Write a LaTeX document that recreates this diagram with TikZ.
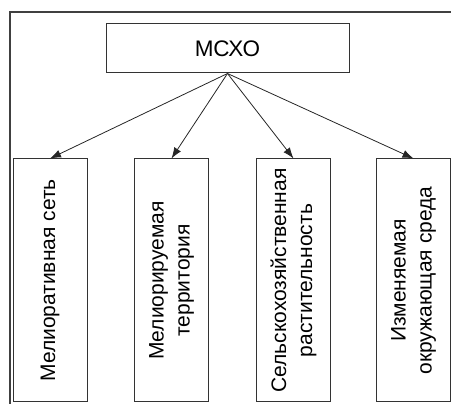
\documentclass[tikz,border=0pt]{standalone}
\usepackage{fontspec}
\setmainfont{Liberation Sans}
\usetikzlibrary{arrows.meta,positioning}
\tikzset{
  frameline/.style={draw=black!75,line width=2pt},
  rootbox/.style={draw=black!80,line width=1pt,minimum width=243pt,minimum height=49pt,inner sep=0pt,
    font=\fontsize{22.5}{26}\selectfont},
  leafbox/.style={draw=black!80,line width=1pt,minimum width=74pt,minimum height=243pt,inner sep=0pt},
  leaftext/.style={rotate=90,align=center,font=\fontsize{21}{26}\selectfont},
  link/.style={draw=black!85,line width=0.8pt,-{Latex[length=11pt,width=8pt]}}
}

\begin{document}
\begin{tikzpicture}[x=1pt,y=-1pt]
            \useasboundingbox (0,0) rectangle (451,404);
            % outer frame
            \draw[frameline] (10,404) -- (10,12) -- (451,12);
            \node[rootbox] (mcxo) at (227.5,48.5) {МСХО};
            \foreach \i/\x/\txt in {1/50/{Мелиоративная сеть},
                                   2/171.5/{Мелиорируемая\\территория},
                                   3/293.5/{Сельскохозяйственная\\растительность},
                                   4/413.5/{Изменяемая\\окружающая среда}} {
                \node[leafbox] (leaf\i) at (\x,280.5) {};
                \node[leaftext] (text\i) at (leaf\i) {\txt};
                \draw[link] (mcxo.south) -- (leaf\i.north);
            }
        \end{tikzpicture}
\end{document}
